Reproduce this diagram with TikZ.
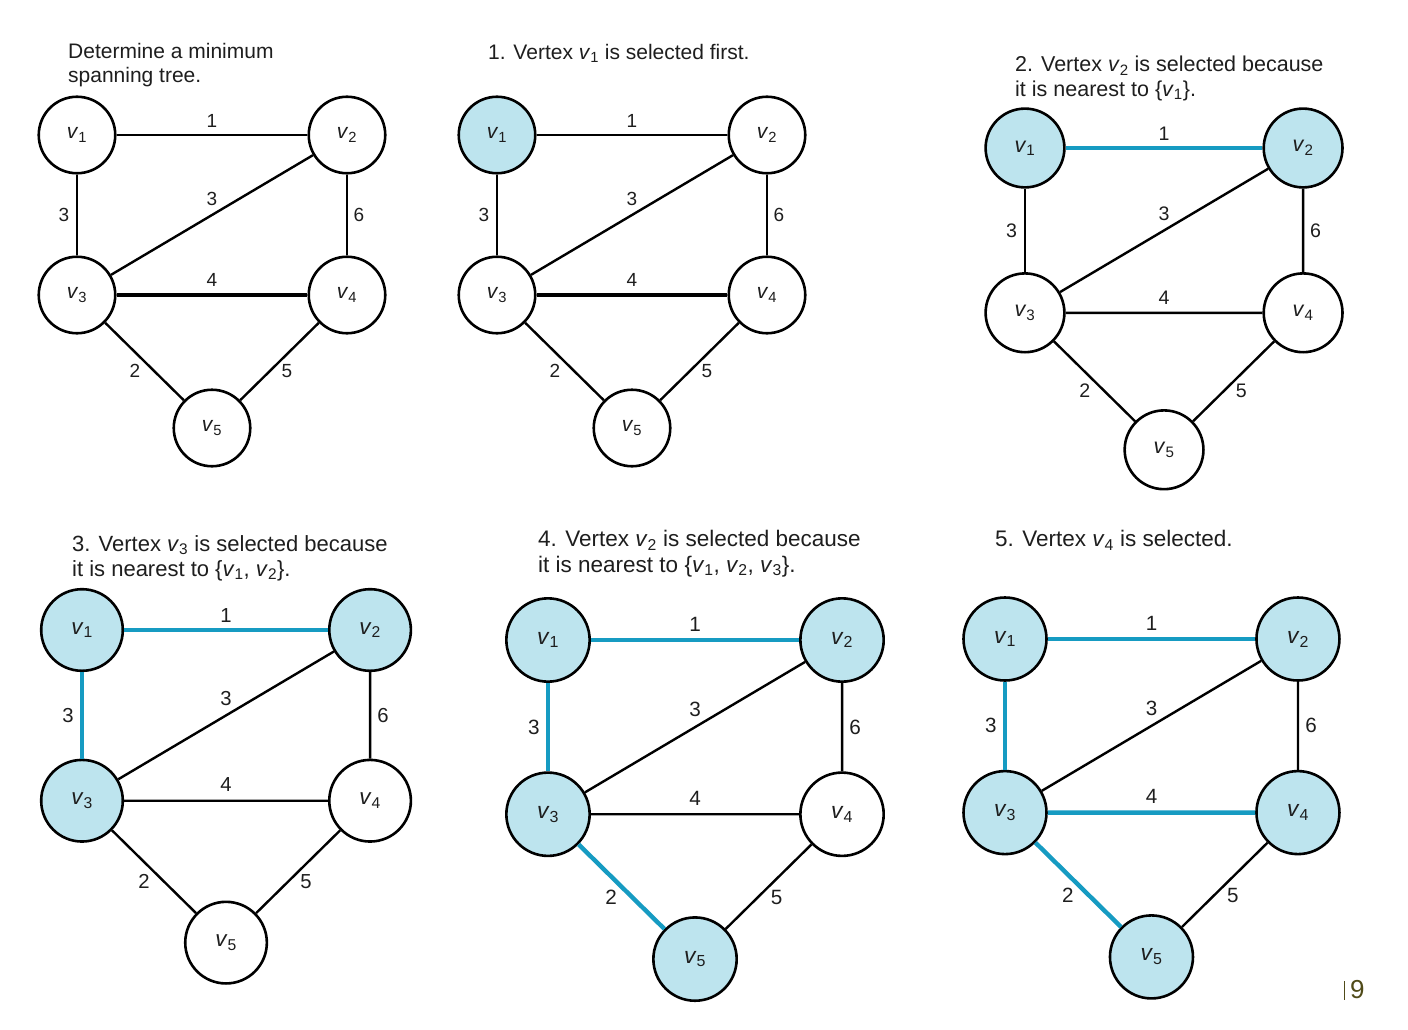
\documentclass[tikz,border=0pt]{standalone}
\usepackage{fontspec}
\setmainfont{Liberation Sans}
\definecolor{selfill}{RGB}{189,228,238}
\definecolor{treeedge}{RGB}{22,155,194}
\definecolor{ink}{RGB}{30,30,30}
\definecolor{pagenum}{RGB}{80,75,25}
\newcommand\vx[1]{\textit{v}\textsubscript{#1}}
\newcommand\capsize[2]{\fontsize{#1}{#2}\selectfont}
\tikzset{
  gvert/.style={circle, draw=black, line width=2.6pt, fill=white, minimum size=\vsize,
    inner sep=0pt, font={\fontsize{\vfs}{\vfs}\selectfont}, text=ink},
  sel/.style={fill=selfill},
  gedge/.style={line width=2.4pt, draw=black},
  mstedge/.style={line width=4.4pt, draw=treeedge},
  lab/.style={font={\fontsize{\lfs}{\lfs}\selectfont}, text=ink, inner sep=0pt},
  capt/.style={anchor=north west, align=left, inner sep=0pt, text=ink},
  n1/.style={}, n2/.style={}, n3/.style={}, n4/.style={}, n5/.style={},
  e12/.style={}, e13/.style={}, e23/.style={}, e24/.style={}, e34/.style={},
  e35/.style={}, e45/.style={}
}
% #1 prefix, #2 x, #3 y, #4 scale, #5 panel styles
\newcommand\mstgraph[5]{%
  \begin{scope}[shift={(#2,#3)}, scale=#4, #5]
    \pgfmathsetlengthmacro\vsize{76.5pt*#4}
    \pgfmathsetmacro\vfs{21*#4}
    \pgfmathsetmacro\lfs{19*#4}
    \node[gvert,n1] (#1v1) at (0,0) {\vx1};
    \node[gvert,n2] (#1v2) at (270,0) {\vx2};
    \node[gvert,n3] (#1v3) at (0,160) {\vx3};
    \node[gvert,n4] (#1v4) at (270,160) {\vx4};
    \node[gvert,n5] (#1v5) at (135,293) {\vx5};
    \draw[gedge,e12] (#1v1) -- (#1v2);
    \draw[gedge,e13] (#1v1) -- (#1v3);
    \draw[gedge,e23] (#1v3) -- (#1v2);
    \draw[gedge,e24] (#1v2) -- (#1v4);
    \draw[gedge,e34] (#1v3) -- (#1v4);
    \draw[gedge,e35] (#1v3) -- (#1v5);
    \draw[gedge,e45] (#1v4) -- (#1v5);
    \node[lab] (#1l12) at (135,-14) {1};
    \node[lab] (#1l13) at (-13,80) {3};
    \node[lab] (#1l23) at (135,64) {3};
    \node[lab] (#1l24) at (282,80) {6};
    \node[lab] (#1l34) at (135,145) {4};
    \node[lab] (#1l35) at (58,236) {2};
    \node[lab] (#1l45) at (210,236) {5};
  \end{scope}}
\begin{document}
\begin{tikzpicture}[x=1pt,y=-1pt]
  \useasboundingbox (0,0) rectangle (1408,1030);
  \fill[white] (0,0) rectangle (1408,1030);

  \node[capt, font={\capsize{21}{24}}] (c1) at (68,43) {Determine a minimum\\spanning tree.};
  \node[capt, font={\capsize{21}{24}}] (c2) at (488,44) {1. Vertex \vx1 is selected first.};
  \node[capt, font={\capsize{21.5}{24.5}}] (c3) at (1015,56) {2. Vertex \vx2 is selected because\\it is nearest to \{\vx1\}.};
  \node[capt, font={\capsize{22}{25}}] (c4) at (72,535) {3. Vertex \vx3 is selected because\\it is nearest to \{\vx1, \vx2\}.};
  \node[capt, font={\capsize{22.5}{25.5}}] (c5) at (538,530) {4. Vertex \vx2 is selected because\\it is nearest to \{\vx1, \vx2, \vx3\}.};
  \node[capt, font={\capsize{22.5}{25.5}}] (c6) at (995,530) {5. Vertex \vx4 is selected.};

  \mstgraph{a}{77}{135}{1}{e34/.style={line width=3.6pt}}
  \mstgraph{b}{497}{135}{1}{n1/.style=sel, e34/.style={line width=3.6pt}}
  \mstgraph{c}{1025}{148}{1.03}{n1/.style=sel, n2/.style=sel, e12/.style=mstedge}
  \mstgraph{d}{82}{630}{1.067}{n1/.style=sel, n2/.style=sel, n3/.style=sel,
     e12/.style=mstedge, e13/.style=mstedge}
  \mstgraph{e}{548}{640}{1.089}{n1/.style=sel, n2/.style=sel, n3/.style=sel, n5/.style=sel,
     e12/.style=mstedge, e13/.style=mstedge, e35/.style=mstedge}
  \mstgraph{f}{1005}{639}{1.085}{n1/.style=sel, n2/.style=sel, n3/.style=sel, n4/.style=sel, n5/.style=sel,
     e12/.style=mstedge, e13/.style=mstedge, e35/.style=mstedge, e34/.style=mstedge}

  \coordinate (pt) at (1344,981);
  \coordinate (pb) at (1344,1000);
  \draw[pagenum, line width=0.9pt] (pt) -- (pb);
  \node[text=pagenum, font={\capsize{26}{26}}, anchor=west, inner sep=0pt] (pg) at (1350,990) {9};
\end{tikzpicture}
\end{document}
